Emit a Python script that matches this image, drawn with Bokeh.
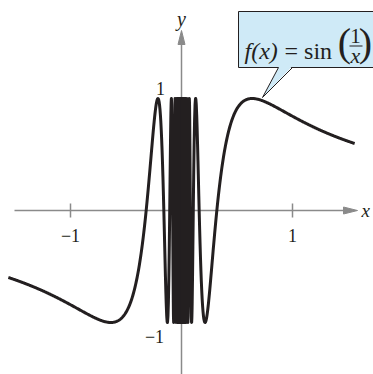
import numpy as np
from bokeh.plotting import figure
from bokeh.models import Range1d
from bokeh.core.properties import value
from bokeh.embed import file_html
from bokeh.resources import INLINE

# ---- data: f(x) = sin(1/x) ----
# dense grid in t = 1/x for the oscillating part, plus a fine x grid for the smooth part
t_grid = np.arange(1 / 1.56, 700.0, np.pi / 10)
x_smooth = np.linspace(0.05, 1.56, 400)
x_pos = np.unique(np.concatenate([1.0 / t_grid, x_smooth]))
x_right = x_pos
x_left = -x_pos[::-1]
y_right = np.sin(1.0 / x_right)
y_left = np.sin(1.0 / x_left)

x_ticks = [-1, 1]
x_tick_labels = ["\u22121", "1"]
y_tick_labels = ["1", "\u22121"]

# ---- layout helpers (reference pixel -> data) ----
X0, SX = 181.0, 111.0
Y0, SY = 210.0, 112.0
def dx(px):
    return (px - X0) / SX
def dy(py):
    return (Y0 - py) / SY

W, H = 373, 374
p = figure(width=W, height=H, output_backend="svg", toolbar_location=None,
           x_range=Range1d(dx(0), dx(W)), y_range=Range1d(dy(H), dy(0)),
           min_border=0)
p.axis.visible = False
p.grid.visible = False
p.outline_line_color = None
p.background_fill_color = "white"

AX = "#8a8a8a"
INK = "#231f20"
SERIF = value("Liberation Serif")

# axes
p.segment(x0=[dx(14)], y0=[0], x1=[dx(350)], y1=[0], line_color=AX, line_width=1.5)
p.segment(x0=[0], y0=[dy(380)], x1=[0], y1=[dy(38)], line_color=AX, line_width=1.5)
p.patch(x=[dx(343), dx(357), dx(343)], y=[dy(206.5), 0, dy(213.5)], fill_color=AX, line_color=AX, line_width=1)
p.patch(x=[dx(177.5), 0, dx(184.5)], y=[dy(44), dy(30), dy(44)], fill_color=AX, line_color=AX, line_width=1)

# ticks
p.segment(x0=x_ticks, y0=[dy(203)] * 2, x1=x_ticks, y1=[dy(217)] * 2, line_color=AX, line_width=1.5)
p.text(x=x_ticks, y=[dy(235)] * 2, text=x_tick_labels, text_font=SERIF, text_font_size="18px",
       text_align="center", text_baseline="middle", text_color=INK)
p.text(x=[dx(160), dx(154)], y=[dy(88), dy(336)], text=y_tick_labels, text_font=SERIF,
       text_font_size="18px", text_align="center", text_baseline="middle", text_color=INK)
p.text(x=[dx(361)], y=[dy(210)], text=["x"], text_font=SERIF, text_font_style="italic",
       text_font_size="19px", text_align="left", text_baseline="middle", text_color=INK)
p.text(x=[dx(181)], y=[dy(18)], text=["y"], text_font=SERIF, text_font_style="italic",
       text_font_size="20px", text_align="center", text_baseline="middle", text_color=INK)

# curve
p.line(x_left, y_left, line_color=INK, line_width=3, line_join="round")
p.line(x_right, y_right, line_color=INK, line_width=3, line_join="round")

# callout
FILL = "#cfeaf7"
p.quad(left=[dx(238)], right=[dx(395)], top=[dy(11)], bottom=[dy(67)],
       fill_color=FILL, line_color=INK, line_width=1)
p.patch(x=[dx(278.5), dx(262), dx(291.5)], y=[dy(66), dy(97), dy(66)], fill_color=FILL, line_color=None)
p.segment(x0=[dx(278), dx(292)], y0=[dy(67), dy(67)], x1=[dx(262), dx(262)], y1=[dy(97), dy(97)],
          line_color=INK, line_width=1)

p.text(x=[dx(244)], y=[dy(50)], text=["f(x)"], text_font=SERIF, text_font_style="italic",
       text_font_size="24px", text_align="left", text_baseline="alphabetic", text_color=INK)
p.text(x=[dx(284)], y=[dy(50)], text=["= sin"], text_font=SERIF,
       text_font_size="24px", text_align="left", text_baseline="alphabetic", text_color=INK)
p.text(x=[dx(344), dx(365)], y=[dy(42), dy(42)], text=["(", ")"], text_font=SERIF,
       text_font_size="40px", text_align="center", text_baseline="middle", text_color=INK)
p.text(x=[dx(355)], y=[dy(35)], text=["1"], text_font=SERIF,
       text_font_size="21px", text_align="center", text_baseline="middle", text_color=INK)
p.text(x=[dx(355)], y=[dy(55)], text=["x"], text_font=SERIF, text_font_style="italic",
       text_font_size="22px", text_align="center", text_baseline="middle", text_color=INK)
p.segment(x0=[dx(349)], y0=[dy(45.5)], x1=[dx(362)], y1=[dy(45.5)], line_color=INK, line_width=1.2)

open("out.html", "w").write(file_html(p, INLINE))
